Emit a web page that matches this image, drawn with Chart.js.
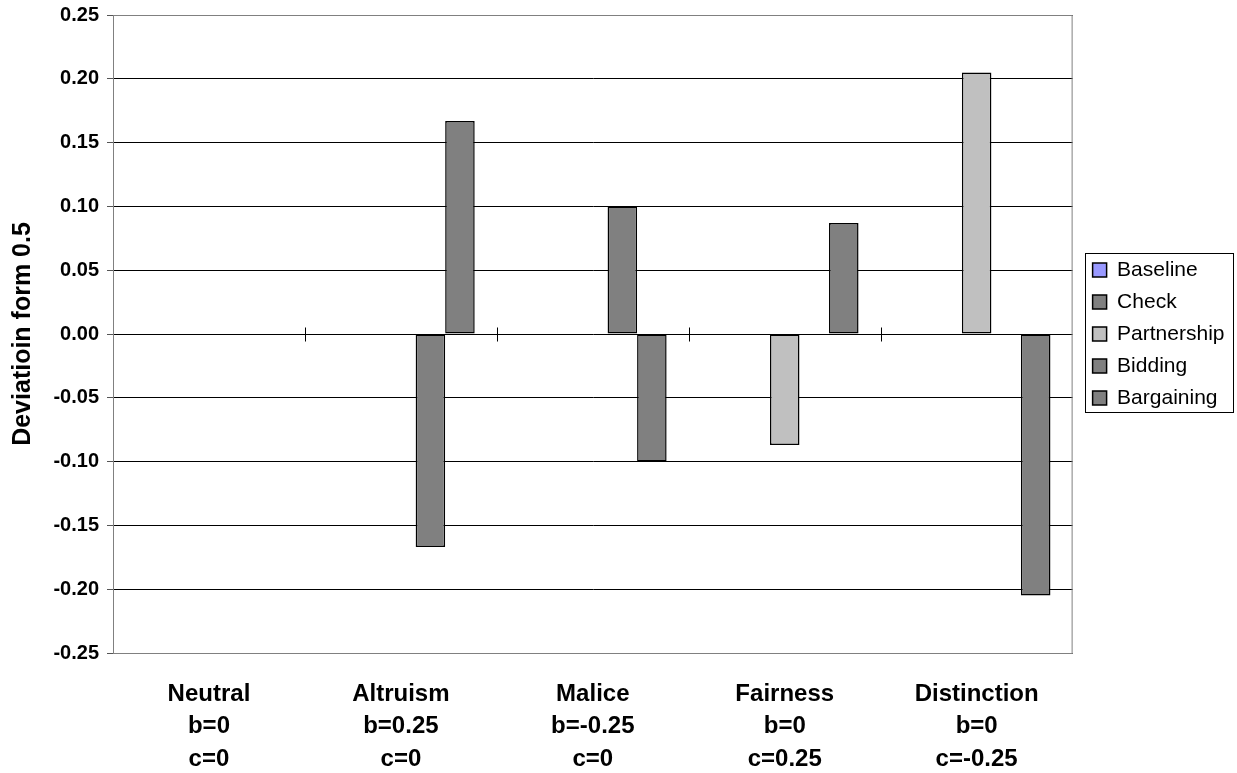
<!DOCTYPE html>
<html lang="en">
<head>
    <meta charset="UTF-8">
    <title>Deviation from 0.5</title>
    <script src="https://cdn.jsdelivr.net/npm/chart.js"></script>
    <style>
        body { margin: 0; background: #fff; }
        #wrap { width: 1237px; height: 773px; }
    </style>
</head>
<body>
    <div id="wrap"><canvas id="devChart"></canvas></div>

    <script>
        // categories (multi-line labels)
        var categories = [
            ['Neutral', 'b=0', 'c=0'],
            ['Altruism', 'b=0.25', 'c=0'],
            ['Malice', 'b=-0.25', 'c=0'],
            ['Fairness', 'b=0', 'c=0.25'],
            ['Distinction', 'b=0', 'c=-0.25']
        ];

        // deviation from 0.5, per mechanism
        var baseline    = [0, 0, 0, 0, 0];
        var check       = [0, 0, 0, 0, 0];
        var partnership = [0, 0, 0, -0.087, 0.205];
        var bidding     = [0, -0.167, 0.10, 0, 0];
        var bargaining  = [0, 0.167, -0.10, 0.087, -0.205];

        var yTicks = [-0.25, -0.20, -0.15, -0.10, -0.05, 0, 0.05, 0.10, 0.15, 0.20, 0.25];

        var FONT = "'Liberation Sans', Arial, sans-serif";

        function makeSet(label, data, color) {
            return {
                label: label,
                data: data,
                backgroundColor: color,
                borderColor: '#000',
                borderWidth: 1.5,
                borderSkipped: false,
                categoryPercentage: 5 / 6.5,
                barPercentage: 1
            };
        }

        // plot area frame, category ticks on the zero line, legend frame
        var decorations = {
            id: 'decorations',
            afterLayout: function(chart) {
                // nudge legend items right, like the original
                chart.legend.left += 9;
            },
            beforeDatasetsDraw: function(chart) {
                var a = chart.chartArea, ctx = chart.ctx;
                ctx.save();
                ctx.strokeStyle = '#808080';
                ctx.lineWidth = 1;
                ctx.strokeRect(a.left + 0.5, a.top + 0.5, a.right - a.left - 1, a.bottom - a.top);
                ctx.restore();
            },
            afterDraw: function(chart) {
                var ctx = chart.ctx;
                var x = chart.scales.x, y = chart.scales.y;
                var y0 = Math.round(y.getPixelForValue(0)) + 0.5;
                ctx.save();
                ctx.strokeStyle = '#000';
                ctx.lineWidth = 1;
                ctx.beginPath();
                for (var i = 1; i < categories.length; i++) {
                    var bx = Math.round((x.getPixelForTick(i - 1) + x.getPixelForTick(i)) / 2) + 0.5;
                    ctx.moveTo(bx, y0 - 7);
                    ctx.lineTo(bx, y0 + 7);
                }
                ctx.stroke();

                var lg = chart.legend;
                var pad = lg.options.labels.padding;
                var colH = lg.columnSizes[0].height;
                var startY = (lg.top + pad + lg.bottom - colH) / 2;
                var top = Math.round(startY - 7) + 0.5;
                var bottom = Math.round(startY + colH - 8) + 0.5;
                var left = Math.round(lg.left + 3) + 0.5;
                ctx.strokeStyle = '#000';
                ctx.strokeRect(left, top, 148, bottom - top);
                ctx.restore();
            }
        };

        var ctx = document.getElementById('devChart').getContext('2d');
        new Chart(ctx, {
            type: 'bar',
            data: {
                labels: categories,
                datasets: [
                    makeSet('Baseline', baseline, '#9999FF'),
                    makeSet('Check', check, '#808080'),
                    makeSet('Partnership', partnership, '#C0C0C0'),
                    makeSet('Bidding', bidding, '#808080'),
                    makeSet('Bargaining', bargaining, '#808080')
                ]
            },
            options: {
                responsive: true,
                maintainAspectRatio: false,
                animation: false,
                layout: { padding: { top: 15, right: 11.5, bottom: 0, left: 0 } },
                plugins: {
                    tooltip: { enabled: false },
                    legend: {
                        position: 'right',
                        align: 'center',
                        fullSize: false,
                        labels: {
                            color: '#000',
                            font: { family: FONT, size: 21 },
                            boxWidth: 14,
                            boxHeight: 14,
                            padding: 11
                        }
                    }
                },
                scales: {
                    x: {
                        grid: { display: false, drawTicks: false },
                        border: { display: false },
                        ticks: {
                            color: '#000',
                            font: { family: FONT, size: 24, weight: 'bold', lineHeight: 1.35 },
                            padding: 25,
                            maxRotation: 0,
                            autoSkip: false
                        },
                        afterFit: function(s) { s.height = 120; }
                    },
                    y: {
                        min: -0.25,
                        max: 0.25,
                        afterBuildTicks: function(s) {
                            s.ticks = yTicks.map(function(v) { return { value: v }; });
                        },
                        grid: { color: '#000', tickColor: '#555', tickLength: 6, lineWidth: 1 },
                        border: { color: '#000', width: 1 },
                        ticks: {
                            color: '#000',
                            font: { family: FONT, size: 20, weight: 'bold' },
                            padding: 8,
                            callback: function(v) { return Math.abs(v) < 1e-9 ? '0.00' : v.toFixed(2); }
                        },
                        title: {
                            display: true,
                            text: 'Deviatioin form 0.5',
                            color: '#000',
                            font: { family: FONT, size: 25, weight: 'bold' },
                            padding: { top: 8, bottom: 0 }
                        },
                        afterFit: function(s) {
                            s.width = 113;
                            s.paddingTop = 0;
                            s.paddingBottom = 0;
                        }
                    }
                }
            },
            plugins: [decorations]
        });
    </script>
</body>
</html>
